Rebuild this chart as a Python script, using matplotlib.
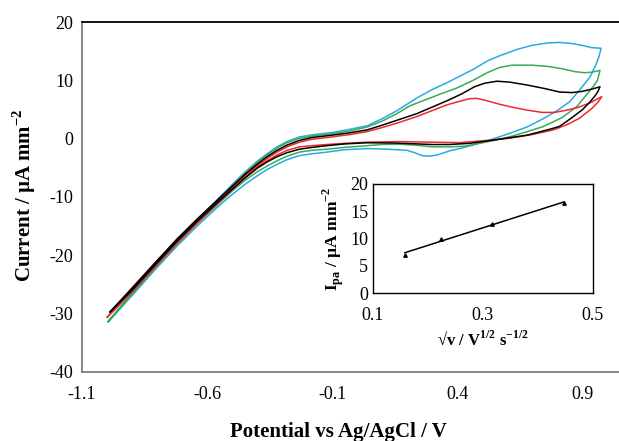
import numpy as np
import matplotlib
matplotlib.use("Agg")
import matplotlib.pyplot as plt

plt.rcParams['font.family'] = ['Liberation Serif', 'DejaVu Serif']
plt.rcParams['mathtext.fontset'] = 'custom'
plt.rcParams['mathtext.rm'] = 'Liberation Serif'
plt.rcParams['mathtext.bf'] = 'Liberation Serif:bold'

# ---------------- data: cyclic voltammograms (V vs Ag/AgCl, uA/mm2) ----------------
blue_fwd_v = [-0.995, -0.90, -0.80, -0.72, -0.64, -0.56, -0.50, -0.45, -0.40, -0.36, -0.32, -0.28, -0.23, -0.18, -0.10,
              -0.03, 0.04, 0.10, 0.16, 0.24, 0.30, 0.36, 0.42, 0.47, 0.52, 0.57, 0.64, 0.70, 0.76, 0.81, 0.86, 0.90, 0.94, 0.976]
blue_fwd_i = [-31.4, -26.5, -21.2, -17.3, -13.9, -10.5, -7.9, -5.8, -3.9, -2.6, -1.4, -0.5, 0.3, 0.65, 1.05,
              1.6, 2.2, 3.4, 4.8, 7.0, 8.4, 9.6, 10.9, 12.0, 13.3, 14.2, 15.3, 16.0, 16.4, 16.5, 16.3, 16.0, 15.6, 15.5]
blue_rev_v = [0.976, 0.968, 0.955, 0.932, 0.89, 0.85, 0.80, 0.744, 0.68, 0.61, 0.54, 0.48, 0.42, 0.37, 0.32, 0.29, 0.26,
              0.23, 0.20, 0.12, 0.04, -0.05, -0.12, -0.18, -0.23, -0.28, -0.32, -0.36, -0.40, -0.45, -0.50, -0.56, -0.64,
              -0.72, -0.80, -0.90, -0.995]
blue_rev_i = [15.5, 14.1, 12.6, 10.6, 8.3, 6.3, 4.8, 3.4, 2.0, 0.9, -0.1, -0.9, -1.6, -2.1, -2.8, -3.0, -2.9,
              -2.4, -2.0, -1.8, -1.7, -1.9, -2.3, -2.6, -2.9, -3.6, -4.4, -5.3, -6.4, -7.9, -9.6, -11.8, -15.0,
              -18.4, -22.1, -26.9, -31.4]

green_fwd_v = [-0.995, -0.90, -0.80, -0.72, -0.64, -0.56, -0.50, -0.45, -0.40, -0.36, -0.32, -0.28, -0.23, -0.18, -0.10,
               -0.03, 0.04, 0.10, 0.16, 0.21, 0.27, 0.33, 0.40, 0.46, 0.52, 0.57, 0.62, 0.70, 0.76, 0.82, 0.87, 0.91, 0.94, 0.972]
green_fwd_i = [-31.3, -26.5, -21.4, -17.5, -14.0, -10.7, -8.1, -6.0, -4.1, -2.8, -1.6, -0.7, 0.05, 0.45, 0.85,
               1.3, 2.0, 3.0, 4.3, 5.6, 6.6, 7.6, 8.7, 9.9, 11.3, 12.2, 12.6, 12.6, 12.4, 12.0, 11.5, 11.3, 11.4, 11.7]
green_rev_v = [0.972, 0.962, 0.944, 0.91, 0.879, 0.82, 0.744, 0.68, 0.612, 0.55, 0.49, 0.43, 0.37, 0.30, 0.23, 0.17,
               0.10, 0.04, -0.05, -0.12, -0.18, -0.23, -0.28, -0.32, -0.36, -0.40, -0.45, -0.50, -0.56, -0.64, -0.72,
               -0.80, -0.90, -0.995]
green_rev_i = [11.7, 10.0, 8.9, 7.1, 5.5, 3.6, 2.06, 1.2, 0.34, -0.3, -0.8, -1.3, -1.4, -1.4, -1.1, -0.95,
               -1.0, -1.2, -1.5, -1.8, -2.0, -2.3, -3.0, -3.8, -4.7, -5.7, -7.2, -9.0, -11.4, -14.6, -18.1,
               -21.8, -26.7, -31.3]

red_fwd_v = [-0.999, -0.90, -0.80, -0.72, -0.64, -0.56, -0.50, -0.45, -0.40, -0.36, -0.32, -0.28, -0.23, -0.18, -0.10,
             -0.03, 0.04, 0.10, 0.17, 0.24, 0.30, 0.36, 0.41, 0.45, 0.48, 0.52, 0.57, 0.62, 0.68, 0.74, 0.79, 0.84, 0.88,
             0.93, 0.979]
red_fwd_i = [-30.6, -25.9, -21.1, -17.4, -14.0, -10.8, -8.4, -6.4, -4.7, -3.4, -2.3, -1.4, -0.6, -0.1, 0.3,
             0.7, 1.2, 1.9, 2.8, 3.8, 4.8, 5.8, 6.4, 6.85, 6.9, 6.5, 5.9, 5.4, 4.9, 4.5, 4.5, 4.9, 5.3,
             6.1, 7.2]
red_rev_v = [0.979, 0.965, 0.94, 0.89, 0.84, 0.785, 0.70, 0.61, 0.52, 0.41, 0.30, 0.17, 0.04, -0.05, -0.12, -0.18,
             -0.23, -0.28, -0.32, -0.36, -0.40, -0.45, -0.50, -0.56, -0.64, -0.72, -0.80, -0.90, -0.999]
red_rev_i = [7.2, 6.3, 5.2, 3.5, 2.4, 1.5, 0.7, 0.07, -0.3, -0.68, -0.6, -0.5, -0.6, -0.8, -1.0, -1.2,
             -1.4, -2.0, -2.8, -3.8, -5.0, -6.8, -8.8, -11.2, -14.5, -17.9, -21.6, -26.3, -30.6]

black_fwd_v = [-0.988, -0.90, -0.80, -0.72, -0.64, -0.56, -0.50, -0.45, -0.40, -0.36, -0.32, -0.28, -0.23, -0.18, -0.10,
               -0.03, 0.04, 0.10, 0.17, 0.24, 0.30, 0.36, 0.42, 0.47, 0.51, 0.56, 0.61, 0.68, 0.75, 0.81, 0.86, 0.90,
               0.94, 0.972]
black_fwd_i = [-29.7, -25.6, -20.9, -17.2, -13.8, -10.6, -8.2, -6.2, -4.4, -3.1, -2.0, -1.1, -0.3, 0.2, 0.6,
               1.0, 1.5, 2.3, 3.3, 4.3, 5.4, 6.5, 7.7, 8.9, 9.5, 9.85, 9.7, 9.2, 8.6, 8.0, 7.9, 8.1,
               8.5, 8.9]
black_rev_v = [0.972, 0.965, 0.955, 0.93, 0.90, 0.85, 0.81, 0.77, 0.68, 0.60, 0.52, 0.45, 0.37, 0.30, 0.24, 0.15,
               0.04, -0.05, -0.12, -0.18, -0.23, -0.28, -0.32, -0.36, -0.40, -0.45, -0.50, -0.56, -0.64, -0.72,
               -0.80, -0.90, -0.988]
black_rev_i = [8.9, 8.2, 7.5, 6.2, 4.9, 3.3, 2.1, 1.6, 0.6, 0.1, -0.4, -0.8, -1.0, -1.0, -0.9, -0.75,
               -0.7, -0.9, -1.2, -1.5, -1.8, -2.4, -3.1, -4.0, -5.1, -6.8, -8.7, -11.0, -14.2, -17.6,
               -21.3, -26.0, -29.7]

# ---------------- data: inset (peak current vs sqrt scan rate) ----------------
sqrt_v = [0.158, 0.224, 0.316, 0.447]
ipa = [7.0, 9.9, 12.7, 16.5]

main_xticks = ['-1.1', '-0.6', '-0.1', '0.4', '0.9']
main_yticks = ['-40', '-30', '-20', '-10', '0', '10', '20']
inset_xticks = ['0.1', '0.3', '0.5']
inset_yticks = ['0', '5', '10', '15', '20']

series = [
    (blue_fwd_v, blue_fwd_i, blue_rev_v, blue_rev_i, '#29ABE2'),
    (green_fwd_v, green_fwd_i, green_rev_v, green_rev_i, '#3AAA5A'),
    (red_fwd_v, red_fwd_i, red_rev_v, red_rev_i, '#EE2A2A'),
    (black_fwd_v, black_fwd_i, black_rev_v, black_rev_i, '#000000'),
]

fig = plt.figure(figsize=(6.19, 4.41), dpi=100)
ax = fig.add_axes([0.1325, 0.1565, 0.8675, 0.7936])

for fv, fi, rv, ri, c in series:
    ax.plot(list(fv) + list(rv), list(fi) + list(ri), color=c, lw=1.1, solid_joinstyle='round')

ax.set_xlim(-1.1, 1.048)
ax.set_ylim(-40, 20)
ax.set_xticks([float(t) for t in main_xticks])
ax.set_xticklabels(main_xticks)
ax.set_yticks([float(t) for t in main_yticks])
ax.set_yticklabels(main_yticks)
ax.tick_params(axis='both', length=0, labelsize=13)
ax.tick_params(axis='x', pad=10)
ax.tick_params(axis='y', pad=6.5)
for s in ['left', 'bottom']:
    ax.spines[s].set_color('#7f7f7f')
    ax.spines[s].set_linewidth(1.3)
ax.spines['top'].set_color('black')
ax.spines['top'].set_linewidth(1.3)
ax.spines['right'].set_visible(False)

fig.text(338 / 619, 1 - 432 / 441, 'Potential vs Ag/AgCl / V', ha='center', va='center',
         fontsize=15, fontweight='bold')
fig.text(24 / 619, 1 - 195 / 441, r'Current / µA mm$^{\mathbf{-2}}$', ha='center', va='center',
         rotation=90, fontsize=15, fontweight='bold')

# inset
ins = fig.add_axes([373 / 619, 1 - 293 / 441, 220 / 619, 109 / 441])
ins.plot(sqrt_v, ipa, linestyle='none', marker='^', color='black', markersize=2.5)
coef = np.polyfit(sqrt_v, ipa, 1)
xs = np.array([sqrt_v[0], sqrt_v[-1]])
ins.plot(xs, np.polyval(coef, xs), color='black', lw=1.1)
ins.set_xlim(0.1, 0.5)
ins.set_ylim(0, 20)
ins.set_xticks([float(t) for t in inset_xticks])
ins.set_xticklabels(inset_xticks)
ins.set_yticks([float(t) for t in inset_yticks])
ins.set_yticklabels(inset_yticks)
ins.tick_params(axis='both', length=0, labelsize=13)
ins.tick_params(axis='x', pad=10)
ins.tick_params(axis='y', pad=3.5)
for s in ins.spines.values():
    s.set_color('black')
    s.set_linewidth(1.0)
ins.set_xlabel(r'√v / V$^{\mathbf{1/2}}$ s$^{\mathbf{-1/2}}$', fontsize=12, fontweight='bold', labelpad=5)
ins.set_ylabel(r'I$_{\mathbf{pa}}$ / µA mm$^{\mathbf{-2}}$', fontsize=12.5, fontweight='bold', labelpad=3)

fig.savefig('out.png', dpi=100)
